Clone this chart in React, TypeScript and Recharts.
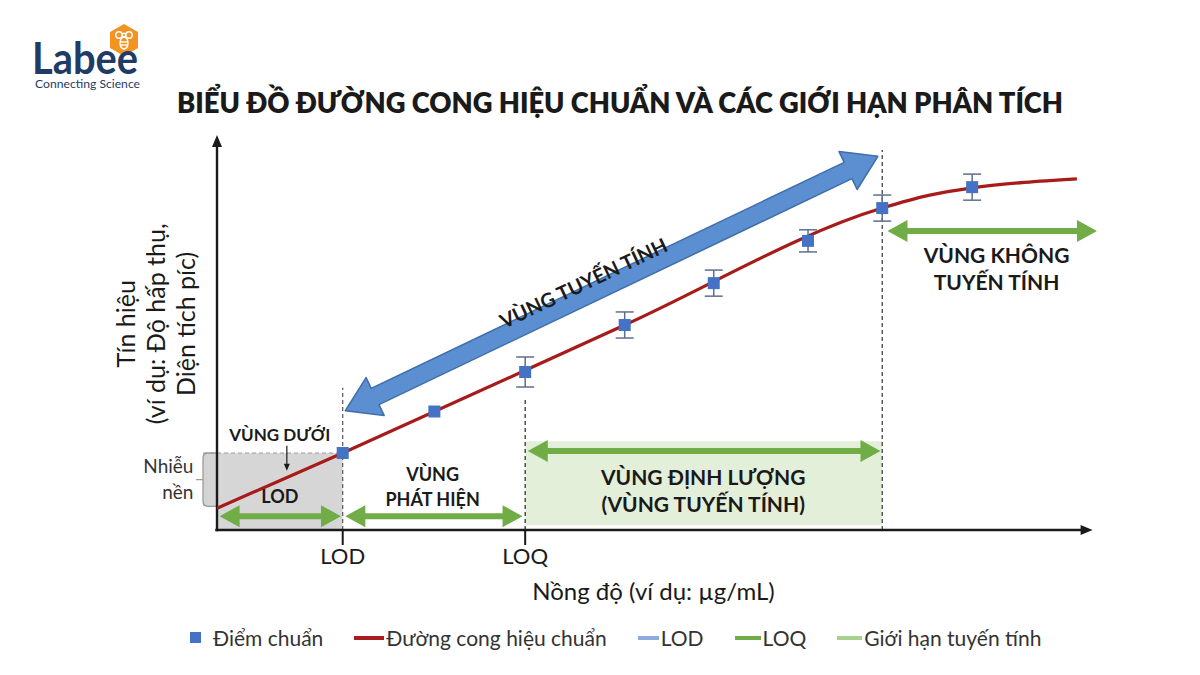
import React from 'react'
import {
  ComposedChart,
  Line,
  Scatter,
  ErrorBar,
  XAxis,
  YAxis,
  ReferenceArea,
  ReferenceLine,
  ReferenceDot,
  Legend,
} from 'recharts'

const FONT = 'Lato, "Open Sans", "DejaVu Sans", sans-serif'

// calibration standards: concentration, signal, error (arbitrary units)
const pointX = [1.44, 2.49, 3.53, 4.67, 5.69, 6.77, 7.62, 8.65]
const pointY = [1.95, 3.0, 4.0, 5.19, 6.25, 7.32, 8.15, 8.68]
const pointErr = [0, 0, 0.38, 0.33, 0.33, 0.28, 0.33, 0.33]

// calibration curve
const curveX = [0, 1.44, 4.67, 7.62, 8.15, 8.65, 9.25, 9.85]
const curveY = [0.55, 1.95, 5.19, 8.15, 8.47, 8.66, 8.8, 8.89]

// limits
const LOD = 1.44
const LOQ = 3.53
const LINEAR_END = 7.62
const NOISE_TOP = 1.95

const tickValues = [LOD, LOQ]
const tickNames = ['LOD', 'LOQ']

const legendNames = ['Điểm chuẩn', 'Đường cong hiệu chuẩn', 'LOD', 'LOQ', 'Giới hạn tuyến tính']
const yLabelLines = ['Tín hiệu', '(ví dụ: Độ hấp thụ,', 'Diện tích píc)']

const points = pointX.map((x, i) => ({ x, y: pointY[i], err: pointErr[i] }))
const curve = curveX.map((x, i) => ({ x, y: curveY[i] }))

// styles for the legend entries (by name)
const legendStyle: Record<string, { color: string; icon: 'square' | 'line'; w: number }> = {
  'Điểm chuẩn': { color: '#4472c4', icon: 'square', w: 11 },
  'Đường cong hiệu chuẩn': { color: '#a81d1d', icon: 'line', w: 30 },
  LOD: { color: '#8faadc', icon: 'line', w: 21 },
  LOQ: { color: '#70ad47', icon: 'line', w: 26 },
  'Giới hạn tuyến tính': { color: '#a9d18e', icon: 'line', w: 25 },
}

type ArrowOpts = { fill: string; stroke?: string; shaft: number; headLen: number; headW: number; double?: boolean }

// polygon arrow drawn between the two ends of a ReferenceLine segment
const arrowShape = (o: ArrowOpts) => (p: any) => {
  const { x1, y1, x2, y2 } = p
  const dx = x2 - x1
  const dy = y2 - y1
  const len = Math.hypot(dx, dy)
  const ux = dx / len
  const uy = dy / len
  const nx = -uy
  const ny = ux
  const s = o.shaft / 2
  const h = o.headW / 2
  const pt = (a: number, b: number) => `${x1 + ux * a + nx * b},${y1 + uy * a + ny * b}`
  const L = o.headLen
  const pts = o.double
    ? [pt(0, 0), pt(L, h), pt(L, s), pt(len - L, s), pt(len - L, h), pt(len, 0), pt(len - L, -h), pt(len - L, -s), pt(L, -s), pt(L, -h)]
    : [pt(0, s), pt(len - L, s), pt(len - L, h), pt(len, 0), pt(len - L, -h), pt(len - L, -s), pt(0, -s)]
  return (
    <polygon
      points={pts.join(' ')}
      fill={o.fill}
      stroke={o.stroke ?? 'none'}
      strokeWidth={1.5}
      strokeLinejoin="round"
    />
  )
}

type NoteOpts = { size: number; bold?: boolean; anchor?: 'start' | 'middle' | 'end'; lh?: number; rotate?: number; color?: string }

// text block centred on a ReferenceDot
const note = (lines: string[], o: NoteOpts) => (p: any) => {
  const { cx, cy } = p
  const lh = o.lh ?? o.size * 1.25
  const y0 = cy - ((lines.length - 1) * lh) / 2
  return (
    <text
      x={cx}
      y={y0}
      fontFamily={FONT}
      fontSize={o.size}
      fontWeight={o.bold ? 700 : 400}
      fill={o.color ?? '#1a1a1a'}
      textAnchor={o.anchor ?? 'middle'}
      transform={o.rotate ? `rotate(${o.rotate} ${cx} ${cy})` : undefined}
    >
      {lines.map((l, i) => (
        <tspan key={i} x={cx} y={y0 + i * lh} dy="0.36em">
          {l}
        </tspan>
      ))}
    </text>
  )
}

const bracketShape = (p: any) => {
  const { x, y, width, height } = p
  const r = 5
  const xl = x
  const xr = x + width
  const ym = y + height / 2
  return (
    <g>
      <rect x={xl} y={y} width={width} height={height} fill="#d4d4d4" />
      <path
        d={`M${xr},${y} L${xl + r},${y} Q${xl},${y} ${xl},${y + r} L${xl},${y + height - r} Q${xl},${y + height} ${xl + r},${y + height} L${xr},${y + height} M${xl},${ym} L${xl - 7},${ym}`}
        fill="none"
        stroke="#9a9a9a"
        strokeWidth={1.3}
      />
    </g>
  )
}

const squareShape = (p: any) => (
  <rect x={p.cx - 6} y={p.cy - 6} width={12} height={12} fill="#4472c4" />
)

const renderLegend = () => (
  <div style={{ display: 'flex', alignItems: 'center', fontFamily: FONT, fontSize: 21, color: '#333' }}>
    {legendNames.map((name) => {
      const st = legendStyle[name]
      return (
        <div key={name} style={{ display: 'flex', alignItems: 'center', marginRight: 31 }}>
          {st.icon === 'square' ? (
            <span style={{ display: 'inline-block', width: st.w, height: st.w, background: st.color, marginRight: 12 }} />
          ) : (
            <span style={{ display: 'inline-block', width: st.w, height: 4, background: st.color, marginRight: 2 }} />
          )}
          <span>{name}</span>
        </div>
      )
    })}
  </div>
)

function Logo() {
  return (
    <svg width={180} height={100} style={{ position: 'absolute', left: 0, top: 0 }}>
      <polygon points="124,24 138,32 138,48 124,56 110,48 110,32" fill="#f39322" />
      <g stroke="#fff" strokeWidth={1.4} fill="none">
        <ellipse cx={124} cy={43} rx={4} ry={6} />
        <line x1={120.5} y1={42} x2={127.5} y2={42} />
        <line x1={120.5} y1={45} x2={127.5} y2={45} />
        <circle cx={119} cy={35} r={3.2} />
        <circle cx={129} cy={35} r={3.2} />
        <circle cx={124} cy={35} r={1.8} />
      </g>
      <text x={32} y={74} fontFamily={FONT} fontWeight={700} fontSize={43} fill="#1f3b66" textLength={106} lengthAdjust="spacingAndGlyphs">
        Labee
      </text>
      <text x={35} y={88} fontFamily={FONT} fontSize={11} fill="#1f3b66" textLength={105} lengthAdjust="spacingAndGlyphs">
        Connecting Science
      </text>
    </svg>
  )
}

export default function App() {
  return (
    <div style={{ position: 'absolute', left: 0, top: 0, width: 1200, height: 675, background: '#fff', fontFamily: FONT }}>
      <Logo />
      <svg width={1200} height={130} style={{ position: 'absolute', left: 0, top: 0 }}>
        <text
          x={620}
          y={113}
          textAnchor="middle"
          fontFamily={FONT}
          fontWeight={800}
          fontSize={28}
          fill="#1a1a1a"
          textLength={886}
          lengthAdjust="spacingAndGlyphs"
        >
          BIỂU ĐỒ ĐƯỜNG CONG HIỆU CHUẨN VÀ CÁC GIỚI HẠN PHÂN TÍCH
        </text>
      </svg>
      <div style={{ position: 'absolute', left: 0, top: 0 }}>
        <ComposedChart width={1200} height={675} margin={{ top: 135, right: 110, bottom: 75, left: 217 }}>
          <XAxis
            type="number"
            dataKey="x"
            domain={[0, 10]}
            allowDataOverflow
            ticks={tickValues}
            interval={0}
            tickFormatter={(v: number) => tickNames[tickValues.indexOf(v)]}
            axisLine={false}
            tickLine={{ stroke: '#1a1a1a', strokeWidth: 2 }}
            tickSize={15}
            tickMargin={3}
            tick={{ fill: '#1a1a1a', fontSize: 22, fontFamily: FONT }}
            height={70}
            label={{ value: 'Nồng độ (ví dụ: µg/mL)', position: 'insideBottom', offset: 0, fill: '#1a1a1a', fontSize: 24, fontFamily: FONT }}
          />
          <YAxis type="number" dataKey="y" domain={[0, 10]} allowDataOverflow width={0} axisLine={false} tickLine={false} tick={false} />

          {/* regions */}
          <ReferenceArea x1={LOQ} x2={LINEAR_END} y1={0.12} y2={2.25} fill="#e3efd9" fillOpacity={1} stroke="none" ifOverflow="visible" />
          <ReferenceArea x1={0} x2={LOD} y1={0} y2={NOISE_TOP} fill="#d6d6d6" fillOpacity={1} stroke="none" ifOverflow="visible" />
          <ReferenceArea x1={-0.16} x2={0} y1={0.6} y2={1.95} shape={bracketShape} ifOverflow="visible" />
          <ReferenceLine segment={[{ x: -0.16, y: NOISE_TOP }, { x: LOD, y: NOISE_TOP }]} stroke="#9a9a9a" strokeDasharray="4 3" strokeWidth={1.2} ifOverflow="visible" />

          {/* limit markers */}
          <ReferenceLine segment={[{ x: LOD, y: 0 }, { x: LOD, y: 3.6 }]} stroke="#555" strokeDasharray="4 3" strokeWidth={1.2} ifOverflow="visible" />
          <ReferenceLine segment={[{ x: LOQ, y: 0 }, { x: LOQ, y: 3.32 }]} stroke="#222" strokeDasharray="4 3" strokeWidth={1.2} ifOverflow="visible" />
          <ReferenceLine segment={[{ x: LINEAR_END, y: 0 }, { x: LINEAR_END, y: 9.62 }]} stroke="#333" strokeDasharray="4 3" strokeWidth={1.2} ifOverflow="visible" />

          {/* axes with arrow heads */}
          <ReferenceLine segment={[{ x: -0.02, y: 0 }, { x: 10.03, y: 0 }]} ifOverflow="visible" shape={arrowShape({ fill: '#1a1a1a', shaft: 2.4, headLen: 12, headW: 10 })} />
          <ReferenceLine segment={[{ x: 0, y: -0.03 }, { x: 0, y: 10.0 }]} ifOverflow="visible" shape={arrowShape({ fill: '#1a1a1a', shaft: 2.4, headLen: 12, headW: 10 })} />

          {/* green range arrows */}
          <ReferenceLine segment={[{ x: 0.03, y: 0.35 }, { x: 1.42, y: 0.35 }]} ifOverflow="visible" shape={arrowShape({ fill: '#70ad47', shaft: 6, headLen: 20, headW: 22, double: true })} />
          <ReferenceLine segment={[{ x: 1.47, y: 0.35 }, { x: 3.5, y: 0.35 }]} ifOverflow="visible" shape={arrowShape({ fill: '#70ad47', shaft: 6, headLen: 20, headW: 22, double: true })} />
          <ReferenceLine segment={[{ x: 3.56, y: 2.0 }, { x: 7.6, y: 2.0 }]} ifOverflow="visible" shape={arrowShape({ fill: '#70ad47', shaft: 6, headLen: 20, headW: 22, double: true })} />
          <ReferenceLine segment={[{ x: 7.68, y: 7.57 }, { x: 10.08, y: 7.57 }]} ifOverflow="visible" shape={arrowShape({ fill: '#70ad47', shaft: 6, headLen: 20, headW: 22, double: true })} />

          {/* linear range arrow */}
          <ReferenceLine segment={[{ x: 1.47, y: 3.02 }, { x: 7.57, y: 9.46 }]} ifOverflow="visible" shape={arrowShape({ fill: '#5b8fd2', stroke: '#3f6ea8', shaft: 18, headLen: 33, headW: 42, double: true })} />

          {/* pointer from "VÙNG DƯỚI" to LOD */}
          <ReferenceLine segment={[{ x: 0.8, y: 2.13 }, { x: 0.8, y: 1.5 }]} ifOverflow="visible" shape={arrowShape({ fill: '#1a1a1a', shaft: 1.2, headLen: 7, headW: 6 })} />

          <Line data={curve} dataKey="y" type="monotone" stroke="#a81b1b" strokeWidth={3.2} dot={false} activeDot={false} isAnimationActive={false} />
          <Scatter data={points} dataKey="y" shape={squareShape} isAnimationActive={false}>
            <ErrorBar dataKey="err" direction="y" width={9} stroke="#5d6f8c" strokeWidth={1.5} />
          </Scatter>

          {/* annotations */}
          <ReferenceDot x={4.2} y={6.25} r={0} ifOverflow="visible" shape={note(['VÙNG TUYẾN TÍNH'], { size: 20, bold: true, rotate: -25.5 })} />
          <ReferenceDot x={0.72} y={2.41} r={0} ifOverflow="visible" shape={note(['VÙNG DƯỚI'], { size: 17, bold: true })} />
          <ReferenceDot x={0.72} y={0.84} r={0} ifOverflow="visible" shape={note(['LOD'], { size: 18, bold: true })} />
          <ReferenceDot x={2.47} y={1.1} r={0} ifOverflow="visible" shape={note(['VÙNG', 'PHÁT HIỆN'], { size: 18, bold: true, lh: 25 })} />
          <ReferenceDot x={5.57} y={1.0} r={0} ifOverflow="visible" shape={note(['VÙNG ĐỊNH LƯỢNG', '(VÙNG TUYẾN TÍNH)'], { size: 21, bold: true, lh: 27 })} />
          <ReferenceDot x={8.93} y={6.6} r={0} ifOverflow="visible" shape={note(['VÙNG KHÔNG', 'TUYẾN TÍNH'], { size: 21, bold: true, lh: 27 })} />
          <ReferenceDot x={-0.27} y={1.29} r={0} ifOverflow="visible" shape={note(['Nhiễu', 'nền'], { size: 19, anchor: 'end', lh: 26, color: '#333' })} />
          <ReferenceDot x={-0.7} y={5.22} r={0} ifOverflow="visible" shape={note(yLabelLines, { size: 25, rotate: -90, lh: 30 })} />

          <Legend
            layout="horizontal"
            verticalAlign="middle"
            content={renderLegend}
            wrapperStyle={{ top: 625, left: 190, width: 1000, height: 28 }}
          />
        </ComposedChart>
      </div>
    </div>
  )
}
